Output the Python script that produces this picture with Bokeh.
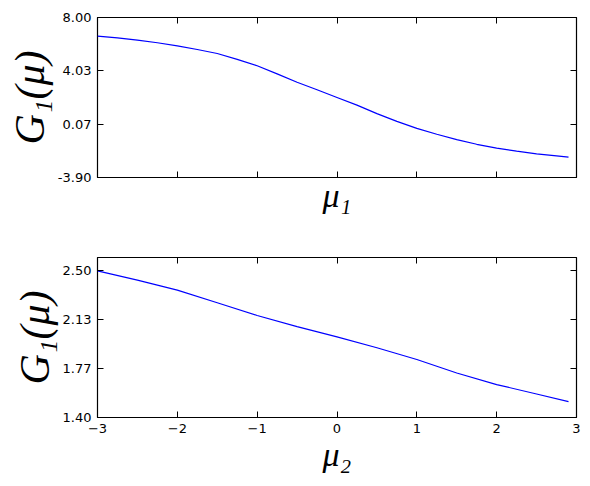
from bokeh.plotting import figure
from bokeh.layouts import column
from bokeh.models import (Range1d, LinearAxis, FixedTicker, PrintfTickFormatter,
                          CustomLabelingPolicy)
from bokeh.embed import file_html
from bokeh.resources import INLINE

# data
mu1 = [-3.0, -2.75, -2.5, -2.25, -2.0, -1.75, -1.5, -1.25, -1.0, -0.75, -0.5, -0.25,
       0.0, 0.25, 0.5, 0.75, 1.0, 1.25, 1.5, 1.75, 2.0, 2.25, 2.5, 2.75, 2.9]
g_mu1 = [6.62, 6.48, 6.32, 6.12, 5.89, 5.62, 5.32, 4.89, 4.41, 3.81, 3.18, 2.63,
         2.05, 1.48, 0.85, 0.27, -0.25, -0.68, -1.08, -1.43, -1.71, -1.94, -2.14, -2.29, -2.39]

mu2 = [-3.0, -2.5, -2.0, -1.5, -1.0, -0.5, 0.0, 0.5, 1.0, 1.5, 2.0, 2.5, 2.9]
g_mu2 = [2.50, 2.43, 2.355, 2.261, 2.165, 2.081, 2.005, 1.923, 1.835, 1.734, 1.647, 1.576, 1.519]

x_ticks = [-3, -2, -1, 0, 1, 2, 3]
x_tick_labels = {-3: "\u22123", -2: "\u22122", -1: "\u22121", 0: "0", 1: "1", 2: "2", 3: "3"}
y1_ticks = [-3.9, 0.0667, 4.0333, 8.0]
y2_ticks = [1.4, 1.7667, 2.1333, 2.5]

TICK_FONT = "DejaVu Sans"
LABEL_FONT = "Liberation Serif"


def style_axis(ax, ticks, show_labels):
    ax.ticker = FixedTicker(ticks=ticks)
    ax.major_tick_in = 6
    ax.major_tick_out = 0
    ax.minor_tick_line_color = None
    ax.major_tick_line_color = "black"
    ax.axis_line_color = None
    ax.major_label_text_font = TICK_FONT
    ax.major_label_text_color = "black"
    if show_labels:
        ax.major_label_text_font_size = "13px"
        ax.major_label_standoff = 6
    else:
        ax.major_label_text_font_size = "1px"
        ax.major_label_standoff = 0
        ax.major_label_policy = CustomLabelingPolicy(code="return new Set()")


def make_fig(x, y, yr, yticks, xlabel, show_xlabels, top, bottom):
    p = figure(width=582, height=top + 160 + bottom, output_backend="svg",
               toolbar_location=None, x_axis_location=None, y_axis_location=None,
               x_range=Range1d(-3, 3), y_range=Range1d(*yr),
               min_border_left=97, min_border_right=6,
               min_border_top=top, min_border_bottom=bottom)
    p.frame_width = 479
    p.frame_height = 160
    p.grid.visible = False
    p.outline_line_color = "black"
    p.outline_line_width = 1.2
    p.background_fill_color = "white"
    p.border_fill_color = "white"

    xb = LinearAxis()
    style_axis(xb, x_ticks, show_xlabels)
    if show_xlabels:
        xb.major_label_overrides = x_tick_labels
    xb.axis_label = xlabel
    xb.axis_label_text_font = LABEL_FONT
    xb.axis_label_text_font_style = "italic"
    xb.axis_label_text_font_size = "34px"
    xb.axis_label_text_color = "black"
    xb.axis_label_standoff = 0 if show_xlabels else -5
    p.add_layout(xb, "below")

    xt = LinearAxis()
    style_axis(xt, x_ticks, False)
    p.add_layout(xt, "above")

    yl = LinearAxis()
    style_axis(yl, yticks, True)
    yl.formatter = PrintfTickFormatter(format="%.2f")
    yl.axis_label = "G\u2081(\u03bc)"
    yl.axis_label_text_font = LABEL_FONT
    yl.axis_label_text_font_style = "italic"
    yl.axis_label_text_font_size = "42px"
    yl.axis_label_text_color = "black"
    yl.axis_label_standoff = 2
    p.add_layout(yl, "left")

    yr_ax = LinearAxis()
    style_axis(yr_ax, yticks, False)
    p.add_layout(yr_ax, "right")

    p.line(x, y, line_color="#0000ff", line_width=1.2)
    return p


p1 = make_fig(mu1, g_mu1, (-3.9, 8.0), y1_ticks, "\u03bc\u2081", False, 17, 60)
p2 = make_fig(mu2, g_mu2, (1.4, 2.6), y2_ticks, "\u03bc\u2082", True, 20, 60)

layout = column(p1, p2, spacing=0)
open("out.html", "w").write(file_html(layout, INLINE))
